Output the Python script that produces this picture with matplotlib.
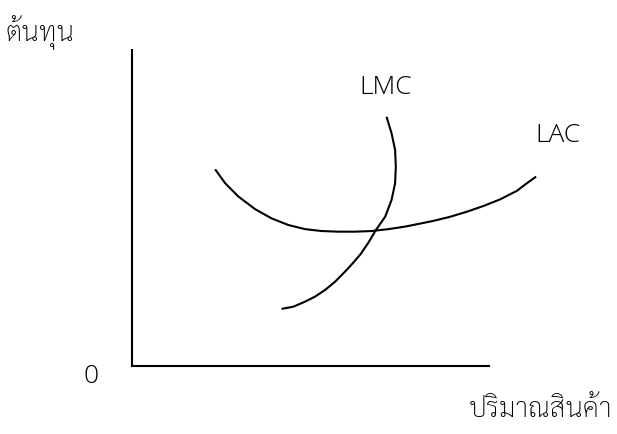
import matplotlib
matplotlib.use("Agg")
import matplotlib.pyplot as plt

# LAC / LMC curve points (x = quantity, y = cost)
lac_x = [2.33, 2.61, 2.98, 3.45, 3.91, 4.38, 4.85, 5.31, 5.78, 6.25, 6.71,
         7.18, 7.65, 8.44, 8.91, 9.38, 9.84, 10.31, 10.78, 11.06, 11.32]
lac_y = [6.23, 5.79, 5.37, 4.97, 4.68, 4.47, 4.34, 4.28, 4.26, 4.26, 4.28,
         4.34, 4.42, 4.60, 4.73, 4.89, 5.07, 5.28, 5.55, 5.79, 6.00]

lmc_x = [7.13, 7.27, 7.37, 7.39, 7.37, 7.27, 7.09, 6.83, 6.62, 6.41, 6.19,
         5.97, 5.69, 5.41, 5.13, 4.85, 4.52, 4.19]
lmc_y = [7.89, 7.37, 6.84, 6.31, 5.79, 5.26, 4.73, 4.31, 3.91, 3.56, 3.27,
         3.00, 2.68, 2.42, 2.21, 2.05, 1.89, 1.82]

axis_len = [0, 10]
y_label = "ต้นทุน"
x_label = "ปริมาณสินค้า"

thai_family = ["Sarabun", "Noto Sans Thai", "DejaVu Sans"]

fig = plt.figure(figsize=(6.17, 4.34), dpi=100)
ax = fig.add_axes([0, 0, 1, 1])
ax.set_xlim(-3.697, 13.585)
ax.set_ylim(-2.133, 11.58)

# only the two axis lines, starting at the origin
for side in ["top", "right"]:
    ax.spines[side].set_visible(False)
for side in ["left", "bottom"]:
    ax.spines[side].set_position(("data", 0))
    ax.spines[side].set_linewidth(1.5)
ax.spines["left"].set_bounds(*axis_len)
ax.spines["bottom"].set_bounds(*axis_len)
ax.set_xticks([])
ax.set_yticks([])
ax.patch.set_visible(False)

curve = dict(color="black", lw=1.5, solid_capstyle="butt", solid_joinstyle="round")
ax.plot(lac_x, lac_y, **curve)
ax.plot(lmc_x, lmc_y, **curve)

latin = dict(fontsize=19, ha="center", va="center", family="Open Sans", fontweight="light")
ax.text(7.11, 8.80, "LMC", **latin)
ax.text(11.93, 7.31, "LAC", **latin)
ax.text(-1.15, -0.33, "0", **latin)

thai = dict(fontsize=20, ha="center", va="center", family=thai_family, fontweight="light")
ax.text(-2.58, 10.55, y_label, **thai)
ax.text(11.43, -1.36, x_label, **thai)

fig.savefig("out.png", dpi=100)
